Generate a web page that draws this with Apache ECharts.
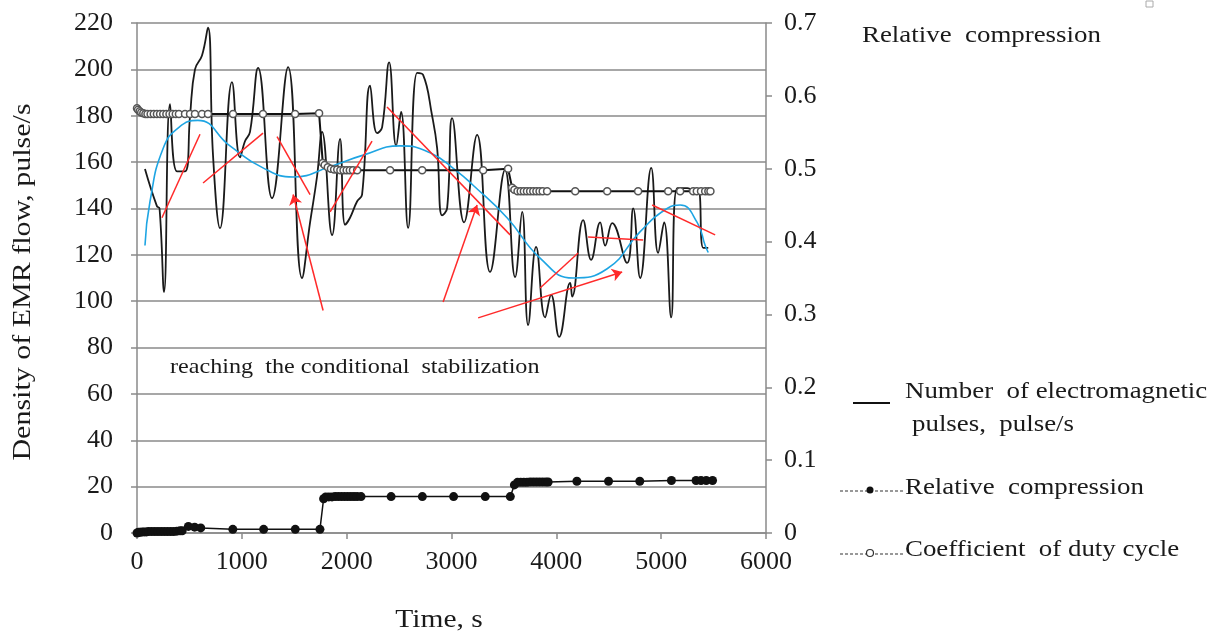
<!DOCTYPE html>
<html><head><meta charset="utf-8">
<script src="https://cdn.jsdelivr.net/npm/echarts@6/dist/echarts.min.js"></script>
<style>html,body{margin:0;padding:0;background:#fff}#c{width:1215px;height:637px}</style>
</head><body><div id="c"></div>
<script>
// ---- Data ----
const emrTime = [
  76,190,215,258,315,382,458,506,553,620,
  677,725,792,906,983,1030,1078,1155,1288,1441,
  1574,1651,1718,1765,1861,1937,1985,2032,2099,2147,
  2223,2290,2338,2405,2472,2519,2586,2672,2729,2815,
  2863,2910,2958,3006,3120,3244,3368,3511,3607,3674,
  3731,3807,3893,3950,4027,4132,4151,4256,4332,4418,
  4466,4533,4675,4733,4800,4905,4971,5028,5095,5153,
  5248,5305,5353,5401,5449];
const emrValue = [
  157,141,140,104,185,156,156,180,200,206,
  218,163,131.5,194.5,162,169,173,200.6,144.5,201,
  110,134,154,173,128.5,170,133,136,143,146,
  193,172.5,175,203,167,181.6,131.6,198.5,197.6,180,
  166,137,140,179,134,171.7,112.6,156.6,110.4,138.5,
  89.7,123.4,93,102.7,84.6,107.9,102,135,117.8,134,
  124,133.7,116.5,140,110,157.5,120.8,134,93,148.8,
  148.8,148,148,123,123];

const trendTime  = [76,124,250,400,580,887,1202,1489,1840,2158,2510,2796,3053,3206,3530,3845,4160,4485,4800,5057,5181,5343,5420,5449];
const trendValue = [124,143,166,175,178,167,157.5,153.6,158,163,167,164,156,150,136,118.6,110,114,130,140,141.5,134,124,121];

const dutyTime = [0,10,25,40,60,80,100,130,160,190,220,250,280,310,340,370,400,458,506,553,620,677,916,1202,1508,1737,
  1772,1790,1820,1850,1880,1910,1940,1970,2000,2030,2060,2100,2414,2720,3302,3540,
  3578,3600,3630,3660,3690,3720,3750,3780,3810,3840,3870,3912,4180,4485,4780,5067,5181,5305,5340,5380,5420,5450,5470];
const dutyValue = [0.583,0.581,0.579,0.577,0.576,0.575,0.575,0.575,0.575,0.575,0.575,0.575,0.575,0.575,0.575,0.575,0.575,0.575,0.575,0.575,0.575,0.575,0.575,0.575,0.575,0.576,
  0.508,0.505,0.502,0.5,0.499,0.499,0.498,0.498,0.498,0.498,0.498,0.498,0.498,0.498,0.498,0.5,
  0.474,0.471,0.469,0.469,0.469,0.469,0.469,0.469,0.469,0.469,0.469,0.469,0.469,0.469,0.469,0.469,0.469,0.469,0.469,0.469,0.469,0.469,0.469];

const compTime = [0,15,30,50,70,90,110,140,170,200,230,260,290,320,350,380,410,431,490,550,608,914,1208,1510,1745,
  1780,1800,1830,1860,1890,1920,1950,1980,2010,2040,2070,2100,2137,2424,2722,3020,3322,3561,
  3600,3630,3660,3690,3720,3750,3780,3810,3840,3870,3900,3922,4196,4498,4796,5098,5333,5380,5430,5490];
const compValue = [0,0.001,0.001,0.0015,0.0015,0.0015,0.002,0.002,0.002,0.002,0.002,0.002,0.002,0.002,0.002,0.0025,0.003,0.003,0.009,0.008,0.007,0.005,0.005,0.005,0.005,
  0.047,0.0495,0.0495,0.0495,0.05,0.05,0.05,0.05,0.05,0.05,0.05,0.05,0.05,0.05,0.05,0.05,0.05,0.05,
  0.066,0.0695,0.0697,0.0697,0.0697,0.07,0.07,0.07,0.07,0.07,0.07,0.07,0.071,0.071,0.071,0.072,0.072,0.072,0.072,0.072];

// red annotation segments [t1, v1, t2, v2] (left-axis units)
const redLines = [
  [238,136,601,172],[630,151,1202,172.5],[1336,171,1651,146],[1842,138.5,2242,169],
  [2385,183.8,3559,128.6],[3845,105.7,4208,120.8],[4303,127.7,4828,126.4],[4914,141.5,5515,128.6]];
const redArrows = [
  [1775,96,1489,146],[2920,99.7,3244,141.5],[3254,92.8,4628,112.6]];

const xTicks = {min:0, max:6000, step:1000};
const yLeftTicks = {min:0, max:220, step:20};
const yRightTicks = {min:0, max:0.7, step:0.1};

// ---- Chart ----
const font = 'Liberation Serif';
const txt = '#1a1a1a';
const gridGray = '#8a8a8a';
const chart = echarts.init(document.getElementById('c'), null, {renderer:'canvas'});
const zip = (a,b) => a.map((t,i)=>[t,b[i]]);
const T = (text, x, y, size, sx, extra) => Object.assign({
  type:'text', x:x, y:y, scaleX:sx, originX:0, originY:0,
  style:{text:text, font:size+'px "Liberation Serif"', fill:txt, align:'left', verticalAlign:'top'}
}, extra||{});

chart.setOption({
  backgroundColor:'#fff',
  animation:false,
  grid:{left:137, right:449, top:23, bottom:104, containLabel:false},
  xAxis:{
    type:'value', min:xTicks.min, max:xTicks.max, interval:xTicks.step,
    axisLine:{show:true, lineStyle:{color:gridGray, width:1.5}},
    axisTick:{show:true, length:6, lineStyle:{color:gridGray, width:1.5}},
    axisLabel:{fontFamily:font, fontSize:26, color:txt, margin:16, formatter:v => String(v)},
    splitLine:{show:false}
  },
  yAxis:[{
    type:'value', min:yLeftTicks.min, max:yLeftTicks.max, interval:yLeftTicks.step,
    axisLine:{show:true, lineStyle:{color:gridGray, width:1.5}},
    axisTick:{show:true, length:6, lineStyle:{color:gridGray, width:1.5}},
    axisLabel:{fontFamily:font, fontSize:26, color:txt, margin:24},
    splitLine:{show:true, lineStyle:{color:gridGray, width:1.5}}
  },{
    type:'value', position:'right', min:yRightTicks.min, max:yRightTicks.max, interval:yRightTicks.step,
    axisLine:{show:true, lineStyle:{color:gridGray, width:1.5}},
    axisTick:{show:true, length:6, lineStyle:{color:gridGray, width:1.5}},
    axisLabel:{fontFamily:font, fontSize:26, color:txt, margin:18,
      formatter:v => v===0 ? '0' : v.toFixed(1)},
    splitLine:{show:false}
  }],
  series:[
    {type:'line', name:'Number of electromagnetic pulses', data:zip(emrTime,emrValue),
     smooth:0.45, showSymbol:false, lineStyle:{color:'#1a1a1a', width:1.8}, z:3},
    {type:'line', name:'trend', data:zip(trendTime,trendValue),
     smooth:true, showSymbol:false, lineStyle:{color:'#1ea5e3', width:1.6}, z:4},
    {type:'line', name:'Coefficient of duty cycle', yAxisIndex:1, data:zip(dutyTime,dutyValue),
     symbol:'circle', symbolSize:7, showAllSymbol:true,
     itemStyle:{color:'#fff', borderColor:'#555', borderWidth:1.5},
     lineStyle:{color:'#111', width:2}, z:5},
    {type:'line', name:'Relative compression', yAxisIndex:1, data:zip(compTime,compValue),
     symbol:'circle', symbolSize:9, showAllSymbol:true,
     itemStyle:{color:'#111'}, lineStyle:{color:'#111', width:1.5}, z:5},
    {type:'lines', coordinateSystem:'cartesian2d', xAxisIndex:0, yAxisIndex:0, z:6,
     symbol:['none','none'],
     lineStyle:{color:'#ff2a2a', width:1.5, opacity:1},
     data:redLines.map(s=>({coords:[[s[0],s[1]],[s[2],s[3]]]}))},
    {type:'lines', coordinateSystem:'cartesian2d', xAxisIndex:0, yAxisIndex:0, z:6,
     symbol:['none','arrow'], symbolSize:10,
     lineStyle:{color:'#ff2a2a', width:1.5, opacity:1},
     data:redArrows.map(s=>({coords:[[s[0],s[1]],[s[2],s[3]]]}))}
  ],
  graphic:[
    T('reaching  the conditional  stabilization', 170, 357, 21, 1.15),
    T('Relative  compression', 862, 24, 24, 1.12),
    {type:'rect', x:1146, y:1, shape:{width:7, height:6}, style:{fill:'none', stroke:'#aaa', lineWidth:1}},
    {type:'line', shape:{x1:853, y1:403, x2:890, y2:403}, style:{stroke:'#111', lineWidth:2}},
    T('Number  of electromagnetic', 905, 380, 24, 1.12),
    T('pulses,  pulse/s', 912, 413, 24, 1.12),
    {type:'line', shape:{x1:840, y1:491, x2:903, y2:491}, style:{stroke:'#333', lineWidth:1.2, lineDash:[3,2]}},
    {type:'circle', shape:{cx:870, cy:490, r:3.5}, style:{fill:'#111'}},
    T('Relative  compression', 905, 476, 24, 1.12),
    {type:'line', shape:{x1:840, y1:554, x2:903, y2:554}, style:{stroke:'#333', lineWidth:1.2, lineDash:[3,2]}},
    {type:'circle', shape:{cx:870, cy:553, r:3.5}, style:{fill:'#fff', stroke:'#333', lineWidth:1.2}},
    T('Coefficient  of duty cycle', 905, 538, 24, 1.12),
    {type:'text', x:439, y:620, scaleX:1.18, originX:0, originY:0,
     style:{text:'Time, s', font:'25px "Liberation Serif"', fill:txt, align:'center', verticalAlign:'middle'}},
    {type:'text', x:23, y:282, rotation:Math.PI/2, scaleX:1.2, originX:0, originY:0,
     style:{text:'Density of EMR flow, pulse/s', font:'25px "Liberation Serif"', fill:txt, align:'center', verticalAlign:'middle'}}
  ]
});
</script>
</body></html>
